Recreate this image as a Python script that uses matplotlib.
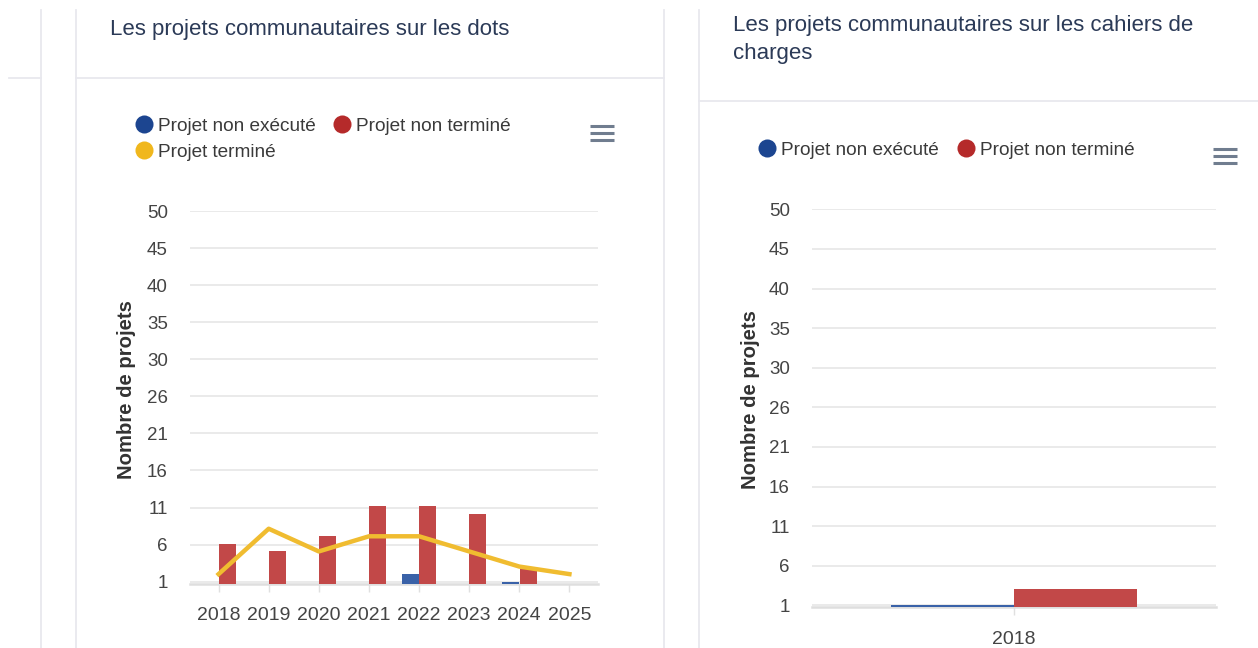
import matplotlib.pyplot as plt
import numpy as np

plt.rcParams['font.family'] = ['Liberation Sans', 'DejaVu Sans']

W, H = 1258, 648

# data: projets sur les dots
years_dots = ['2018', '2019', '2020', '2021', '2022', '2023', '2024', '2025']
non_execute_dots = [0, 0, 0, 0, 2, 0, 1, 0]
non_termine_dots = [6, 5, 7, 11, 11, 10, 3, 0]
termine_dots = [2, 8, 5, 7, 7, 5, 3, 2]

# data: projets sur les cahiers de charges
years_cdc = ['2018']
non_execute_cdc = [1]
non_termine_cdc = [3]

# y axis ticks as shown (min 1, max 50, 10 intervals)
y_ticks = np.linspace(1, 50, 11)
y_labels = [str(int(np.floor(v + 0.5 + 1e-9))) for v in y_ticks]

BLUE = '#3a62a8'
RED = '#c24848'
YELLOW = '#f0bc30'
BLUE_LEG = '#1c4590'
RED_LEG = '#b52a2a'
YELLOW_LEG = '#f0b71d'
TITLE_COL = '#2b3a57'
TEXT_COL = '#3a3a3a'
BORDER = '#e8e8ee'


def px_axes(fig, left, top, right, bottom):
    """Add an axes given in pixel coordinates (top-left origin)"""
    return fig.add_axes([left / W, 1 - bottom / H,
                         (right - left) / W, (bottom - top) / H])


def draw_chart(ax, years, non_exec, non_term, term, width, offset, xpad, ymin):
    x = np.arange(len(years))
    ax.bar(x - offset, non_exec, width, color=BLUE, zorder=3)
    ax.bar(x + offset, non_term, width, color=RED, zorder=3)
    if term is not None:
        ax.plot(x, term, color=YELLOW, lw=3.2, zorder=4,
                solid_joinstyle='round')
    ax.set_xlim(-xpad, len(years) - 1 + xpad)
    ax.set_ylim(ymin, 50)
    ax.set_yticks(y_ticks)
    ax.set_yticklabels(y_labels)
    ax.set_xticks(x)
    ax.set_xticklabels(years)
    ax.grid(axis='y', color='#e6e6e6', lw=1.2)
    ax.set_axisbelow(True)
    for s in ['top', 'right', 'left']:
        ax.spines[s].set_visible(False)
    ax.spines['bottom'].set_color('#dedede')
    ax.spines['bottom'].set_linewidth(1.8)
    ax.spines['bottom'].set_zorder(1)
    ax.tick_params(axis='y', length=0, pad=16, labelsize=13.5, labelcolor='#444444')
    ax.tick_params(axis='x', length=6, width=1, color='#e0e0e0', pad=11,
                   labelsize=14, labelcolor='#444444')
    ax.set_facecolor('none')


fig = plt.figure(figsize=(W / 100, H / 100), dpi=100)
fig.patch.set_facecolor('white')

# overlay for card borders, titles, legends
ov = fig.add_axes([0, 0, 1, 1])
ov.set_xlim(0, W)
ov.set_ylim(H, 0)
ov.axis('off')

# card borders
ov.plot([41, 41], [10, H], color=BORDER, lw=1.3)
ov.plot([9, 41], [78, 78], color=BORDER, lw=1.3)
ov.plot([75.5, 75.5], [10, H], color=BORDER, lw=1.3)
ov.plot([76, 664], [78, 78], color=BORDER, lw=1.3)
ov.plot([664, 664], [10, H], color=BORDER, lw=1.3)
ov.plot([698.5, 698.5], [10, H], color=BORDER, lw=1.3)
ov.plot([699, W], [101, 101], color=BORDER, lw=1.3)

# titles
ov.text(110, 30, 'Les projets communautaires sur les dots', fontsize=16,
        color=TITLE_COL, ha='left', va='center')
ov.text(733, 26, 'Les projets communautaires sur les cahiers de', fontsize=16,
        color=TITLE_COL, ha='left', va='center')
ov.text(733, 53, 'charges', fontsize=16, color=TITLE_COL, ha='left', va='center')

# legends
legend_left = [(144, 124, BLUE_LEG, 'Projet non exécuté'),
               (342, 124, RED_LEG, 'Projet non terminé'),
               (144, 150, YELLOW_LEG, 'Projet terminé')]
legend_right = [(767, 148, BLUE_LEG, 'Projet non exécuté'),
                (966, 148, RED_LEG, 'Projet non terminé')]
for cx, cy, col, lab in legend_left + legend_right:
    ov.plot([cx], [cy], 'o', ms=13, color=col, mec='none')
    ov.text(cx + 14, cy + 2.5, lab, fontsize=13.7, color=TEXT_COL,
            ha='left', va='center')

# hamburger menu icons
for x0, x1, ys in [(590, 614, [126, 133, 140]), (1213, 1237, [149, 156, 163])]:
    for yy in ys:
        ov.plot([x0, x1], [yy, yy], color='#707d8f', lw=2.2, solid_capstyle='butt')

# y axis titles
ov.text(127, 390, 'Nombre de projets', rotation=90, fontsize=14.6, fontweight='bold',
        color='#333333', ha='center', va='center')
ov.text(750, 400, 'Nombre de projets', rotation=90, fontsize=14.6, fontweight='bold',
        color='#333333', ha='center', va='center')

# left chart
ax1 = px_axes(fig, 190, 211, 598, 583.5)
draw_chart(ax1, years_dots, non_execute_dots, non_termine_dots, termine_dots,
           width=0.34, offset=0.175, xpad=0.57, ymin=0.76)

# right chart
ax2 = px_axes(fig, 812, 209.3, 1216, 607)
draw_chart(ax2, years_cdc, non_execute_cdc, non_termine_cdc, None,
           width=0.305, offset=0.1525, xpad=0.5, ymin=0.8)

fig.savefig('out.png', dpi=100, facecolor='white')
